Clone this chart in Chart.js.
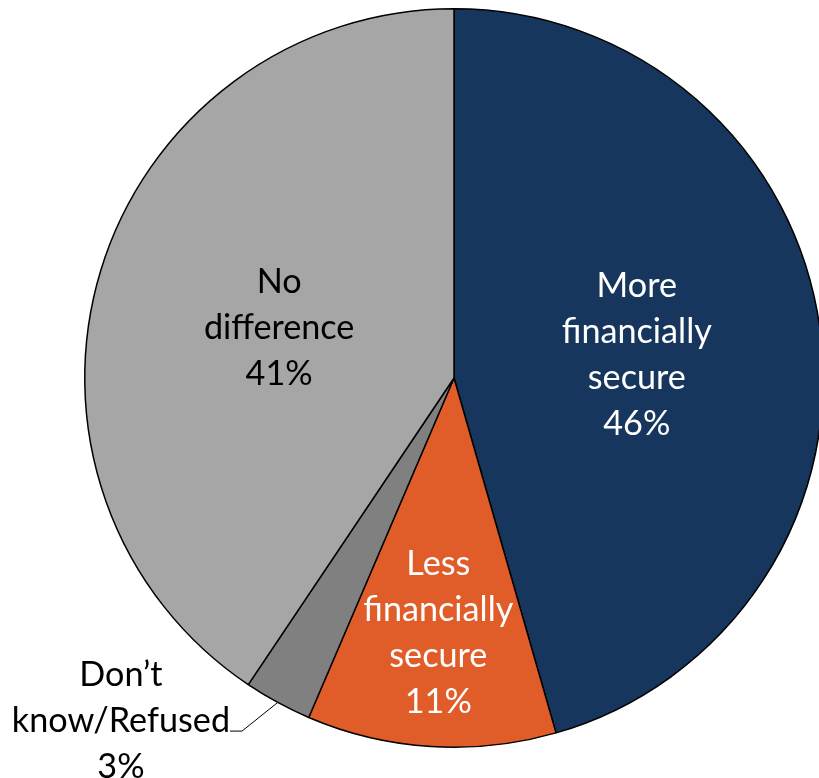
<!DOCTYPE html>
<html>
<head>
<meta charset="utf-8">
<script src="https://cdn.jsdelivr.net/npm/chart.js@4.4.1/dist/chart.umd.min.js"></script>
<style>
  html, body { margin: 0; padding: 0; background: #ffffff; overflow: hidden; }
  #wrap { width: 830px; height: 778px; }
</style>
</head>
<body>
<div id="wrap"><canvas id="chart" width="830" height="778"></canvas></div>
<script>
// Survey answers, clockwise from 12 o'clock
const categories = [
  ['More', 'financially', 'secure'],
  ['Less', 'financially', 'secure'],
  ['Don\u2019t', 'know/Refused'],
  ['No', 'difference']
];
const shares = [46, 11, 3, 41];

const sliceColors = ['#17365D', '#E05C28', '#808080', '#A6A6A6'];
const textColors = ['#ffffff', '#ffffff', '#000000', '#000000'];

const FONT_FAMILY = 'Lato, "Noto Sans", sans-serif';
const LINE_HEIGHT = 46;
const TEXT_NUDGE = 3; // small downward shift of label blocks

// Where each label sits: fraction of the radius along the slice's mid-angle,
// or, for the small slice, an outside callout with a leader line.
const labelPlacement = [
  { r: 0.50 },
  { r: 0.683 },
  { outside: { dx: -0.902, dy: 0.921 } },
  { r: 0.495 }
];

function fitFontSize(ctx) {
  ctx.font = '100px ' + FONT_FAMILY;
  const w = ctx.measureText('financially').width;
  return Math.round(100 * 150 / w * 10) / 10;
}

const sliceLabels = {
  id: 'sliceLabels',
  afterDatasetsDraw(chart) {
    const ctx = chart.ctx;
    const meta = chart.getDatasetMeta(0);
    const size = fitFontSize(ctx);
    ctx.save();
    ctx.font = size + 'px ' + FONT_FAMILY;
    ctx.textAlign = 'center';
    ctx.textBaseline = 'middle';
    meta.data.forEach((arc, i) => {
      const { x, y, startAngle, endAngle, outerRadius } = arc.getProps(
        ['x', 'y', 'startAngle', 'endAngle', 'outerRadius'], true);
      const mid = (startAngle + endAngle) / 2;
      const lines = categories[i].concat([shares[i] + '%']);
      const place = labelPlacement[i];
      let cx, cy;
      if (place.outside) {
        cx = x + place.outside.dx * outerRadius;
        cy = y + place.outside.dy * outerRadius;
        // leader line from the slice edge to the end of the middle line
        const ex = x + Math.cos(mid) * outerRadius;
        const ey = y + Math.sin(mid) * outerRadius;
        const midLine = lines[1];
        const lineEnd = cx + ctx.measureText(midLine).width / 2;
        const lineY = cy + 13;
        ctx.strokeStyle = '#000000';
        ctx.lineWidth = 1;
        ctx.beginPath();
        ctx.moveTo(ex, ey);
        ctx.lineTo(lineEnd + 12, lineY);
        ctx.lineTo(lineEnd, lineY);
        ctx.stroke();
      } else {
        cx = x + Math.cos(mid) * outerRadius * place.r;
        cy = y + Math.sin(mid) * outerRadius * place.r;
      }
      ctx.fillStyle = textColors[i];
      const top = cy + TEXT_NUDGE - (lines.length - 1) * LINE_HEIGHT / 2;
      lines.forEach((t, k) => ctx.fillText(t, cx, top + k * LINE_HEIGHT));
    });
    ctx.restore();
  }
};

new Chart(document.getElementById('chart'), {
  type: 'pie',
  data: {
    labels: categories.map(c => c.join(' ')),
    datasets: [{
      data: shares,
      backgroundColor: sliceColors,
      borderColor: '#000000',
      borderWidth: 1.5
    }]
  },
  options: {
    responsive: false,
    animation: false,
    layout: { padding: { left: 84, right: 6, top: 8, bottom: 30 } },
    plugins: {
      legend: { display: false },
      tooltip: { enabled: false }
    }
  },
  plugins: [sliceLabels]
});
</script>
</body>
</html>
